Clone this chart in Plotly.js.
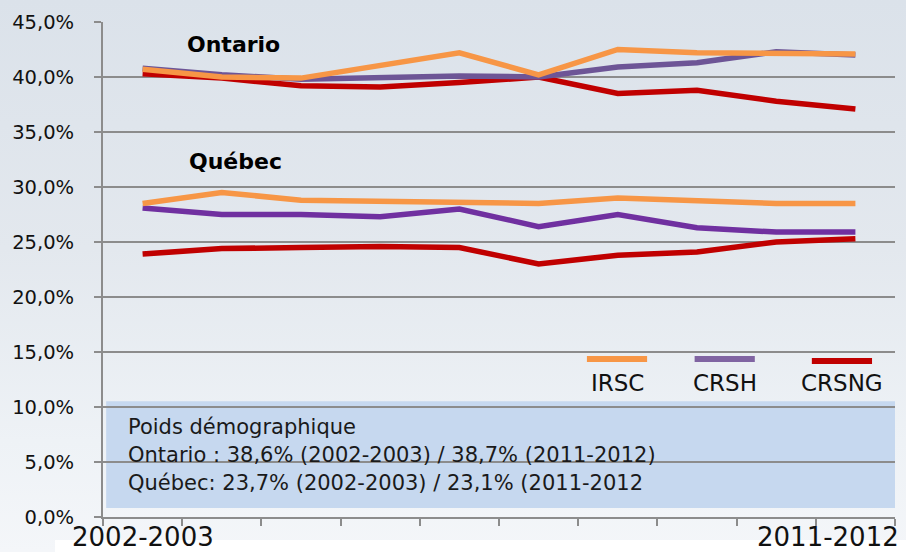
<!DOCTYPE html>
<html>
<head>
<meta charset="utf-8">
<script src="https://cdn.plot.ly/plotly-3.0.1.min.js"></script>
<style>
html,body{margin:0;padding:0;}
body{width:906px;height:552px;position:relative;overflow:hidden;
 background:linear-gradient(to bottom,#dbe2ea 0%,#e3e8ee 45%,#eef2f6 80%,#f4f6f9 100%);}
#strip{position:absolute;left:55px;top:540px;width:851px;height:12px;background:#ffffff;}
#chart{position:absolute;left:0;top:0;width:906px;height:552px;}
</style>
</head>
<body>
<div id="strip"></div>
<div id="chart"></div>
<script>
const years = ["2002-2003","2003-2004","2004-2005","2005-2006","2006-2007","2007-2008","2008-2009","2009-2010","2010-2011","2011-2012"];
const ontIRSC  = [40.7, 40.0, 39.9, 41.1, 42.2, 40.2, 42.5, 42.2, 42.2, 42.1];
const ontCRSH  = [40.8, 40.2, 39.8, 40.0, 40.1, 40.0, 40.9, 41.3, 42.3, 42.0];
const ontCRSNG = [40.3, 39.9, 39.2, 39.1, 39.5, 40.0, 38.5, 38.8, 37.8, 37.1];
const qcIRSC   = [28.5, 29.5, 28.8, 28.7, 28.5, 28.5, 29.0, 28.7, 28.5, 28.5];
const qcCRSH   = [28.1, 27.5, 27.5, 27.3, 28.0, 26.4, 27.5, 26.3, 25.9, 25.9];
const qcCRSNG  = [23.9, 24.4, 24.5, 24.6, 24.5, 23.0, 23.8, 24.1, 25.0, 25.3];
const seriesNames = ["IRSC","CRSH","CRSNG"];
const yTicks = [0,5,10,15,20,25,30,35,40,45];
const yTickText = yTicks.map(v => v.toFixed(1).replace(".", ",") + "%");
const boxLines = ["Poids démographique",
  "Ontario : 38,6% (2002-2003) / 38,7% (2011-2012)",
  "Québec: 23,7% (2002-2003) / 23,1% (2011-2012"];

const ORANGE = "#f79646", PURPLE_ON = "#6d5596", PURPLE_QC = "#7030a0", RED = "#c00000", LEG_PURPLE = "#8064a2";
const FONT = "DejaVu Sans";

function tr(y, color, name){
  return {x: years, y: y, type: "scatter", mode: "lines", name: name,
    line: {color: color, width: 5.5}, showlegend: false, hoverinfo: "skip"};
}
const data = [
  tr(qcCRSNG, RED, "CRSNG"), tr(qcCRSH, PURPLE_QC, "CRSH"), tr(qcIRSC, ORANGE, "IRSC"),
  tr(ontCRSNG, RED, "CRSNG"), tr(ontCRSH, PURPLE_ON, "CRSH"), tr(ontIRSC, ORANGE, "IRSC")
];

const legColors = [ORANGE, LEG_PURPLE, RED];
const legX0 = [0.611, 0.747, 0.895];
const legY = [0.319, 0.319, 0.315];
const shapes = [
  {type: "rect", xref: "paper", yref: "paper", x0: 0.004, x1: 1.0, y0: 0.018, y1: 0.234,
   fillcolor: "#c6d8ef", line: {width: 0}, layer: "below"}
];
const annotations = [];
seriesNames.forEach((n, i) => {
  shapes.push({type: "line", xref: "paper", yref: "paper", x0: legX0[i], x1: legX0[i] + 0.076,
    y0: legY[i], y1: legY[i], line: {color: legColors[i], width: 6}});
  annotations.push({xref: "paper", yref: "paper", x: legX0[i] + 0.038, y: 0.271, text: n,
    showarrow: false, xanchor: "center", yanchor: "middle", font: {family: FONT, size: 23, color: "#111"}});
});
const boxY = [0.182, 0.125, 0.069];
boxLines.forEach((t, i) => {
  annotations.push({xref: "paper", yref: "paper", x: 0.029, y: boxY[i], text: t, showarrow: false,
    xanchor: "left", yanchor: "middle", font: {family: FONT, size: 21, color: "#1a1a1a"}});
});
annotations.push({xref: "paper", yref: "paper", x: 0.165, y: 0.954, text: "<b>Ontario</b>", showarrow: false,
  xanchor: "center", yanchor: "middle", font: {family: FONT, size: 22, color: "#000"}});
annotations.push({xref: "paper", yref: "paper", x: 0.167, y: 0.719, text: "<b>Québec</b>", showarrow: false,
  xanchor: "center", yanchor: "middle", font: {family: FONT, size: 22, color: "#000"}});
annotations.push({xref: "x", yref: "paper", x: years[0], y: -0.040, text: years[0], showarrow: false,
  xanchor: "center", yanchor: "middle", font: {family: FONT, size: 26, color: "#111"}});
annotations.push({xref: "paper", yref: "paper", x: 1, xshift: 6, y: -0.040, text: years[years.length - 1], showarrow: false,
  xanchor: "right", yanchor: "middle", font: {family: FONT, size: 26, color: "#111"}});

const layout = {
  width: 906, height: 552,
  margin: {l: 103, r: 11, t: 22, b: 35},
  paper_bgcolor: "rgba(0,0,0,0)", plot_bgcolor: "rgba(0,0,0,0)",
  showlegend: false,
  xaxis: {type: "category", range: [-0.5, years.length - 0.5], showgrid: false, showline: true,
    linecolor: "#8c8c8c", linewidth: 2,
    ticks: "outside", tickson: "boundaries", ticklen: 7, tickcolor: "#8c8c8c", tickwidth: 2,
    showticklabels: false, zeroline: false, fixedrange: true},
  yaxis: {range: [0, 45], tickmode: "array", tickvals: yTicks, ticktext: yTickText,
    showgrid: true, gridcolor: "#8c8c8c", gridwidth: 2, zeroline: false,
    showline: true, linecolor: "#8c8c8c", linewidth: 2,
    ticks: "outside", ticklen: 7, tickcolor: "#8c8c8c", tickwidth: 2, ticklabelstandoff: 16,
    tickfont: {family: FONT, size: 19.5, color: "#111"}, fixedrange: true},
  shapes: shapes,
  annotations: annotations
};
Plotly.newPlot("chart", data, layout, {staticPlot: true});
</script>
</body>
</html>
